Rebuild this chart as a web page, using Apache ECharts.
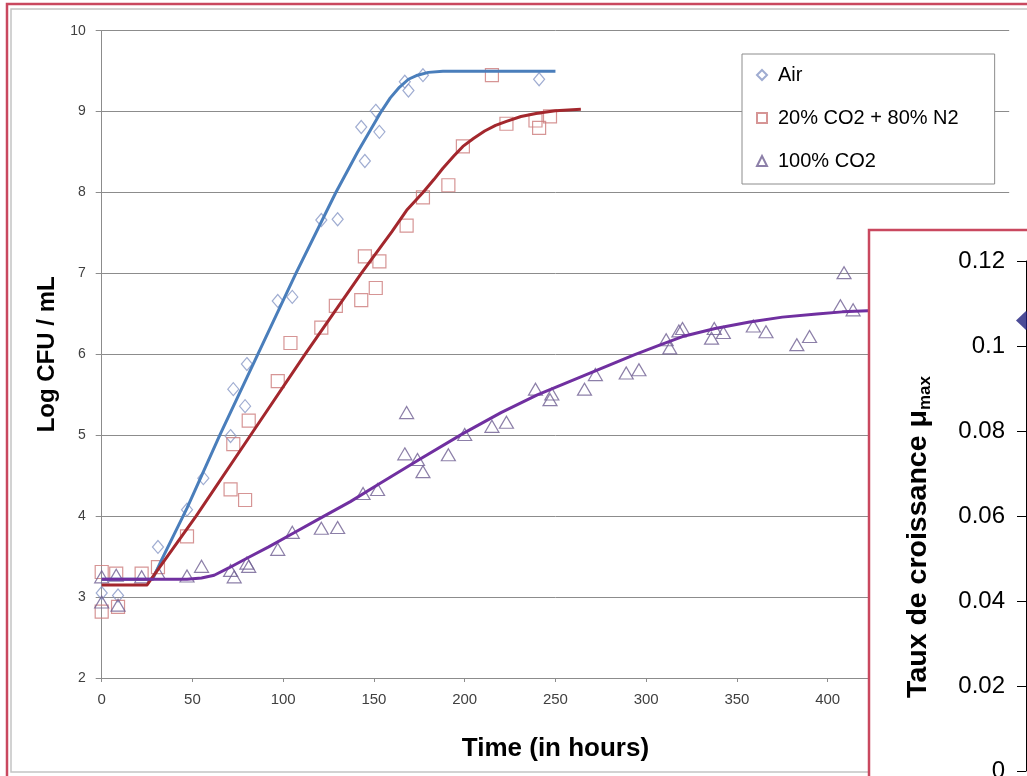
<!DOCTYPE html>
<html>
<head>
<meta charset="utf-8">
<script src="https://cdn.jsdelivr.net/npm/echarts@6/dist/echarts.min.js"></script>
<style>
html,body{margin:0;padding:0;background:#fff;}
#c{width:1027px;height:776px;}
</style>
</head>
<body>
<div id="c"></div>
<script>
// ---- observed data (Log CFU / mL vs time in hours) ----
const airT = [0, 9, 31, 47, 56, 71, 72.5, 79, 80, 97, 105, 121, 130, 143, 145, 151, 153, 167, 169, 177, 241];
const airV = [3.05, 3.02, 3.62, 4.08, 4.47, 4.99, 5.57, 5.36, 5.88, 6.66, 6.71, 7.66, 7.67, 8.81, 8.39, 9.01, 8.75, 9.37, 9.26, 9.45, 9.40];

const mixT = [0, 0, 8, 9, 22, 31, 47, 71, 72.5, 79, 81, 97, 104, 121, 129, 143, 145, 151, 153, 168, 177, 191, 199, 215, 223, 239, 241, 247];
const mixV = [3.31, 2.82, 3.29, 2.88, 3.29, 3.37, 3.75, 4.33, 4.89, 4.20, 5.18, 5.67, 6.14, 6.33, 6.60, 6.67, 7.21, 6.82, 7.15, 7.59, 7.94, 8.09, 8.57, 9.45, 8.85, 8.89, 8.80, 8.94];

const co2T = [0, 0, 8, 9, 22, 31, 47, 55, 71, 73, 80, 81, 97, 105, 121, 130, 144, 152, 167, 168, 174, 177, 191, 200, 215, 223, 239, 247, 248, 266, 272, 289, 296, 311, 313, 318, 320, 336, 337.5, 342.5, 359, 366, 383, 390, 407, 409, 414];
const co2V = [3.25, 2.94, 3.27, 2.90, 3.25, 3.30, 3.26, 3.38, 3.33, 3.25, 3.42, 3.38, 3.59, 3.80, 3.85, 3.86, 4.28, 4.33, 4.77, 5.28, 4.70, 4.55, 4.76, 5.01, 5.11, 5.16, 5.57, 5.44, 5.51, 5.57, 5.75, 5.77, 5.81, 6.18, 6.08, 6.29, 6.32, 6.20, 6.32, 6.27, 6.35, 6.28, 6.12, 6.22, 6.60, 7.01, 6.55];

// ---- fitted curves ----
const airFitT = [0, 28, 33, 47, 54, 65, 86, 107, 129, 141, 148, 154, 159, 164, 169, 174, 180, 188, 200, 250];
const airFitV = [3.22, 3.22, 3.46, 4.10, 4.45, 5.00, 6.00, 7.00, 8.00, 8.50, 8.77, 9.00, 9.17, 9.30, 9.40, 9.45, 9.485, 9.50, 9.50, 9.50];

const mixFitT = [0, 25, 52, 82, 112, 143, 160, 168, 177, 183, 188, 194, 199, 205, 211, 217, 223, 231, 240, 250, 264];
const mixFitV = [3.15, 3.15, 4.00, 5.00, 6.00, 7.00, 7.52, 7.78, 8.00, 8.16, 8.30, 8.45, 8.57, 8.67, 8.76, 8.83, 8.88, 8.94, 8.98, 9.01, 9.03];

const co2FitT = [0, 47, 55, 62, 70, 80, 92, 104, 120, 137, 153, 175, 199, 220, 240, 265, 280, 293, 307, 320, 338, 357, 375, 394, 408, 422, 450];
const co2FitV = [3.22, 3.22, 3.235, 3.27, 3.36, 3.48, 3.62, 3.77, 3.97, 4.18, 4.40, 4.70, 5.02, 5.28, 5.50, 5.73, 5.87, 5.99, 6.11, 6.22, 6.32, 6.40, 6.46, 6.50, 6.525, 6.54, 6.55];

// ---- overlaid second chart (growth rate) ----
const muX = [0];
const muY = [0.106];

const seriesNames = ['Air', '20% CO2 + 80% N2', '100% CO2'];
const xTitle = 'Time (in hours)';
const yTitle = 'Log CFU / mL';
const muTitle = '{a|Taux de croissance μ}{b|max}';

const zip = (a, b) => a.map((x, i) => [x, b[i]]);
const FONT = 'Liberation Sans, Arial, sans-serif';
const GRID_C = '#8c8c8c';

const chart = echarts.init(document.getElementById('c'), null, {renderer: 'canvas'});

const option = {
  animation: false,
  backgroundColor: '#fff',
  textStyle: {fontFamily: FONT},
  grid: [
    {left: 101.7, top: 30.7, width: 907.5, height: 647.3, containLabel: false, outerBoundsMode: 'none'},
    {left: 1026, top: 261, width: 150, height: 510, containLabel: false, outerBoundsMode: 'none'}
  ],
  xAxis: [
    {
      gridIndex: 0, type: 'value', min: 0, max: 500, interval: 50,
      axisLine: {show: true, lineStyle: {color: GRID_C, width: 1}},
      axisTick: {show: true, inside: false, length: 4, lineStyle: {color: GRID_C}},
      axisLabel: {fontSize: 15, color: '#404040', margin: 14, fontFamily: FONT},
      splitLine: {show: false},
      name: xTitle, nameLocation: 'middle', nameGap: 58,
      nameTextStyle: {fontSize: 26, fontWeight: 'bold', color: '#000', fontFamily: FONT}
    },
    {gridIndex: 1, type: 'value', min: 0, max: 1, show: false}
  ],
  yAxis: [
    {
      gridIndex: 0, type: 'value', min: 2, max: 10, interval: 1,
      axisLine: {show: true, lineStyle: {color: GRID_C, width: 1}},
      axisTick: {show: true, inside: false, length: 6, lineStyle: {color: GRID_C}},
      axisLabel: {fontSize: 14, color: '#404040', margin: 16, fontFamily: FONT},
      splitLine: {show: true, lineStyle: {color: GRID_C, width: 1}},
      name: yTitle, nameLocation: 'middle', nameRotate: 90, nameGap: 42,
      nameTextStyle: {fontSize: 24, fontWeight: 'bold', color: '#000', fontFamily: FONT}
    },
    {
      gridIndex: 1, type: 'value', min: 0, max: 0.12, interval: 0.02, z: 60,
      axisLine: {show: true, lineStyle: {color: '#000', width: 1}},
      axisTick: {show: true, inside: false, length: 9, lineStyle: {color: '#000'}},
      axisLabel: {fontSize: 24, color: '#000', margin: 21, fontFamily: FONT,
        formatter: v => String(+(+v).toFixed(2))},
      splitLine: {show: false}
    }
  ],
  legend: {
    data: seriesNames,
    orient: 'vertical', left: 742, top: 54,
    padding: [11, 36, 13, 14],
    itemWidth: 10, itemHeight: 10, itemGap: 23,
    backgroundColor: '#fff', borderColor: '#8c8c8c', borderWidth: 1,
    textStyle: {fontSize: 20, color: '#000', fontFamily: FONT, lineHeight: 20, padding: [0, 0, 0, 6]},
    selectedMode: false
  },
  graphic: [
    {type: 'rect', z: 1, silent: true, shape: {x: 11, y: 9, width: 1100, height: 763},
     style: {fill: 'none', stroke: '#c4c4c4', lineWidth: 1.5}},
    {type: 'rect', z: 1, silent: true, shape: {x: 7, y: 4, width: 1100, height: 900},
     style: {fill: 'none', stroke: '#c9485f', lineWidth: 2.5}},
    {type: 'rect', z: 50, silent: true, shape: {x: 869, y: 230, width: 400, height: 700},
     style: {fill: '#fff', stroke: '#c9485f', lineWidth: 2.5}},
    {type: 'text', z: 60, silent: true, x: 918, y: 537, rotation: Math.PI / 2,
     style: {text: muTitle, align: 'center', verticalAlign: 'middle', fill: '#000',
       rich: {
         a: {fontSize: 28.5, fontWeight: 'bold', fontFamily: FONT, lineHeight: 32, fill: '#000'},
         b: {fontSize: 17, fontWeight: 'bold', fontFamily: FONT, lineHeight: 17, padding: [15, 0, 0, 0], verticalAlign: 'bottom', fill: '#000'}
       }}}
  ],
  series: [
    {name: seriesNames[0], type: 'scatter', xAxisIndex: 0, yAxisIndex: 0, data: zip(airT, airV),
     symbol: 'diamond', symbolSize: [11, 13],
     itemStyle: {color: 'rgba(255,255,255,0)', borderColor: '#8797c6', borderWidth: 1.2}, z: 3},
    {name: seriesNames[1], type: 'scatter', xAxisIndex: 0, yAxisIndex: 0, data: zip(mixT, mixV),
     symbol: 'rect', symbolSize: 13,
     itemStyle: {color: 'rgba(255,255,255,0)', borderColor: '#cc7b7b', borderWidth: 1.2}, z: 3},
    {name: seriesNames[2], type: 'scatter', xAxisIndex: 0, yAxisIndex: 0, data: zip(co2T, co2V),
     symbol: 'triangle', symbolSize: [14, 12],
     itemStyle: {color: 'rgba(255,255,255,0)', borderColor: '#6f5f92', borderWidth: 1.2}, z: 3},
    {name: 'fitAir', type: 'line', xAxisIndex: 0, yAxisIndex: 0, data: zip(airFitT, airFitV),
     symbol: 'none', smooth: false, silent: true, z: 4,
     lineStyle: {color: '#4a7ebb', width: 3, join: 'round'}, itemStyle: {color: '#4a7ebb'}},
    {name: 'fitMix', type: 'line', xAxisIndex: 0, yAxisIndex: 0, data: zip(mixFitT, mixFitV),
     symbol: 'none', smooth: false, silent: true, z: 4,
     lineStyle: {color: '#a3272d', width: 3, join: 'round'}, itemStyle: {color: '#a3272d'}},
    {name: 'fitCO2', type: 'line', xAxisIndex: 0, yAxisIndex: 0, data: zip(co2FitT, co2FitV),
     symbol: 'none', smooth: false, silent: true, z: 4,
     lineStyle: {color: '#7030a0', width: 3, join: 'round'}, itemStyle: {color: '#7030a0'}},
    {name: 'mu', type: 'scatter', xAxisIndex: 1, yAxisIndex: 1, data: zip(muX, muY),
     symbol: 'diamond', symbolSize: [20, 19], z: 60,
     itemStyle: {color: '#1f1f7d'}}
  ]
};

chart.setOption(option);
</script>
</body>
</html>
